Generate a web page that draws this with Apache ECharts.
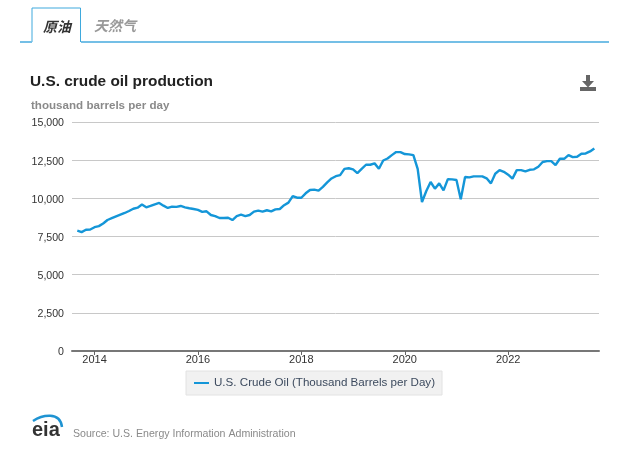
<!DOCTYPE html>
<html>
<head>
<meta charset="utf-8">
<title>U.S. crude oil production</title>
<script src="https://cdn.jsdelivr.net/npm/echarts@6/dist/echarts.min.js"></script>
<style>
html, body { margin: 0; padding: 0; background: #fff; }
#chart { width: 640px; height: 451px; }
</style>
</head>
<body>
<div id="chart"></div>
<script>
// monthly values, Sep 2013 to Sep 2023
var startYear = 2013, startMonth = 8;
var crudeOil = [
    7880, 7790, 7940, 7960,
    8110, 8180, 8350, 8580, 8700, 8820, 8930, 9040, 9170, 9320, 9390, 9590,
    9410, 9500, 9610, 9700, 9520, 9370, 9460, 9440, 9500, 9410, 9350, 9300,
    9240, 9110, 9150, 8910, 8840, 8710, 8710, 8730, 8580, 8840, 8930, 8840,
    8910, 9130, 9200, 9130, 9220, 9150, 9280, 9300, 9550, 9720, 10150, 10040,
    10040, 10330, 10550, 10570, 10500, 10750, 11040, 11300, 11450, 11520, 11930, 11970,
    11900, 11650, 11930, 12200, 12200, 12290, 11940, 12480, 12610, 12830, 13030, 13030,
    12900, 12880, 12830, 11930, 9760, 10480, 11070, 10630, 10980, 10520, 11260, 11240,
    11200, 9935, 11400, 11370, 11440, 11440, 11440, 11310, 10980, 11610, 11850, 11740,
    11550, 11290, 11850, 11850, 11760, 11870, 11900, 12070, 12380, 12440, 12440, 12180,
    12590, 12590, 12830, 12700, 12720, 12920, 12940, 13070, 13270
];
var yTicks = [0, 2500, 5000, 7500, 10000, 12500, 15000];
var xTickYears = [2014, 2016, 2018, 2020, 2022];
var tabs = ['原油', '天然气'];

// x is a decimal year, the time axis can't hold custom ticks on even years
var points = crudeOil.map(function (v, i) {
    return [startYear + (startMonth + i) / 12, v];
});

var option = {
    animation: false,
    backgroundColor: '#fff',
    textStyle: { fontFamily: '"Liberation Sans", Arial, sans-serif' },
    title: [
        {
            text: 'U.S. crude oil production',
            left: 25, top: 69,
            textStyle: { fontSize: 15.4, fontWeight: 'bold', color: '#222', fontFamily: '"Liberation Sans", sans-serif' }
        },
        {
            text: 'thousand barrels per day',
            left: 26, top: 95,
            textStyle: { fontSize: 11.6, fontWeight: 'bold', color: '#8a8a8a', fontFamily: '"Liberation Sans", sans-serif' }
        },
        {
            text: 'Source: U.S. Energy Information Administration',
            left: 68, top: 424,
            textStyle: { fontSize: 10.6, fontWeight: 'normal', color: '#8a8a8a', fontFamily: '"Liberation Sans", sans-serif' }
        }
    ],
    legend: {
        left: 186, top: 371,
        padding: [6, 7, 6, 8],
        itemWidth: 15, itemHeight: 2,
        backgroundColor: '#f1f1f1',
        borderColor: '#e2e2e2', borderWidth: 1,
        textStyle: { fontSize: 11.6, color: '#3c4a5e', fontFamily: '"Liberation Sans", sans-serif' },
        data: [{ name: 'U.S. Crude Oil (Thousand Barrels per Day)', icon: 'rect' }]
    },
    grid: { left: 72, right: 41, top: 122, bottom: 100 },
    xAxis: {
        type: 'value',
        min: 2013.564,
        max: 2023.757,
        axisLine: { lineStyle: { color: '#777', width: 2 } },
        axisTick: { length: 4, lineStyle: { color: '#666' }, customValues: xTickYears },
        axisLabel: {
            fontSize: 11, color: '#333', margin: 3,
            customValues: xTickYears,
            formatter: function (v) { return String(v); }
        },
        splitLine: { show: false }
    },
    yAxis: {
        type: 'value',
        min: yTicks[0],
        max: yTicks[yTicks.length - 1],
        interval: 2500,
        axisLine: { show: false },
        axisTick: { show: false },
        axisLabel: {
            fontSize: 10.6, color: '#333', margin: 8,
            verticalAlign: 'top', lineHeight: 3,
            formatter: function (v) { return v.toLocaleString('en-US'); }
        },
        splitLine: { lineStyle: { color: '#c8c8c8', width: 1 } }
    },
    series: [{
        name: 'U.S. Crude Oil (Thousand Barrels per Day)',
        type: 'line',
        data: points,
        showSymbol: false,
        lineStyle: { color: '#1496d8', width: 2.4 },
        itemStyle: { color: '#1496d8' }
    }],
    graphic: [
        // tab strip
        { type: 'polyline', silent: true, shape: { points: [[32, 42], [32, 8], [80.5, 8], [80.5, 42]] },
          style: { fill: 'none', stroke: '#3fa9dd', lineWidth: 1 } },
        { type: 'line', silent: true, shape: { x1: 20, y1: 42, x2: 32, y2: 42 }, style: { stroke: '#74bfe6', lineWidth: 2 } },
        { type: 'line', silent: true, shape: { x1: 81, y1: 42, x2: 609, y2: 42 }, style: { stroke: '#74bfe6', lineWidth: 2 } },
        { type: 'text', silent: true, left: 43, top: 20,
          style: { text: tabs[0], fill: '#333', font: 'italic bold 14px "Noto Sans CJK SC"' } },
        { type: 'text', silent: true, left: 94, top: 19,
          style: { text: tabs[1], fill: '#999', font: 'italic bold 14px "Noto Sans CJK SC"' } },
        // download icon
        { type: 'rect', silent: true, shape: { x: 580, y: 87, width: 16, height: 4 }, style: { fill: '#666' } },
        { type: 'polygon', silent: true,
          shape: { points: [[586, 75], [590, 75], [590, 81], [594, 81], [588, 87.5], [582, 81], [586, 81]] },
          style: { fill: '#666' } },
        // eia logo
        { type: 'text', silent: true, left: 32, top: 420,
          style: { text: 'eia', fill: '#333', font: 'bold 20px "Liberation Sans"' } },
        { type: 'bezierCurve', silent: true,
          shape: { x1: 33, y1: 421, cpx1: 42, cpy1: 415, cpx2: 60, cpy2: 411, x2: 62, y2: 427 },
          style: { fill: 'none', stroke: '#1e93d2', lineWidth: 2.5 } }
    ]
};

var chart = echarts.init(document.getElementById('chart'));
chart.setOption(option);
</script>
</body>
</html>
